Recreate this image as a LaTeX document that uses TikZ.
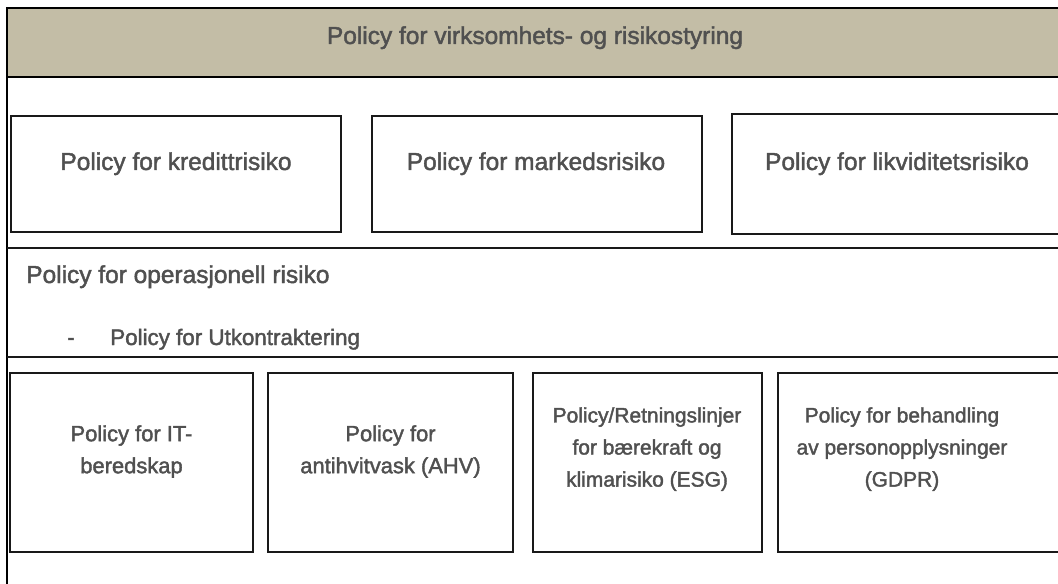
\documentclass[tikz,border=0pt]{standalone}
\usepackage{fontspec}
\setmainfont{Liberation Sans}
\newfontfamily\policyfont{Liberation Sans}[FakeBold=1.8]
\usepackage{xcolor}
\definecolor{bandfill}{HTML}{C3BDA6}
\definecolor{policygrey}{HTML}{505050}
\tikzset{
  frameline/.style={line width=2pt, black},
  boxline/.style={line width=1.6pt, black!90},
  bigtxt/.style={font=\policyfont\fontsize{17.4}{21}\selectfont, text=policygrey, inner sep=0pt},
  midtxt/.style={font=\policyfont\fontsize{15.9}{21}\selectfont, text=policygrey, inner sep=0pt},
  smalltxt/.style={font=\policyfont\fontsize{#1}{22.8}\selectfont, text=policygrey, inner sep=0pt, align=center},
  smalltxt/.default=15.3
}

\begin{document}
\begin{tikzpicture}[x=0.025cm, y=-0.025cm]
\clip (0,0) rectangle (1058,584);
\fill[white] (0,0) rectangle (1058,584);

% top band and outer frame
\draw[frameline, fill=bandfill] (7,8) rectangle (1070,77);
\draw[frameline] (7,8) -- (7,590);

% section dividers
\draw[boxline] (7,248) -- (1070,248);
\draw[boxline] (7,357) -- (1070,357);

% first row of boxes
\draw[boxline] (11,116) rectangle (341,232);
\draw[boxline] (372,116) rectangle (702,232);
\draw[boxline] (732,114) rectangle (1070,234);

% second row of boxes
\foreach \xa/\xb in {10/253, 268/513, 533/762, 778/1070}
	\draw[boxline] (\xa,373) rectangle (\xb,552);

\node[bigtxt, anchor=base] (styring) at (535,44) {Policy for virksomhets- og risikostyring};
\node[bigtxt, anchor=base] (kreditt) at (176,170) {Policy for kredittrisiko};
\node[bigtxt, anchor=base] (marked) at (536,170) {Policy for markedsrisiko};
\node[bigtxt, anchor=base] (likvid) at (897,170) {Policy for likviditetsrisiko};

\node[bigtxt, anchor=base west] (oprisk) at (26,283) {Policy for operasjonell risiko};
\node[midtxt, anchor=base west] (strek) at (67,345) {-};
\node[midtxt, anchor=base west] (utkontr) at (110,345) {Policy for Utkontraktering};

\node[smalltxt=15.6, anchor=north] (itber) at (131.5,425) {Policy for IT-\\beredskap};
\node[smalltxt=15.6, anchor=north] (ahv) at (390.5,425) {Policy for\\antihvitvask (AHV)};
\node[smalltxt=14.9, anchor=north] (esg) at (647,407) {Policy/Retningslinjer\\for bærekraft og\\klimarisiko (ESG)};
\node[smalltxt=14.9, anchor=north] (gdpr) at (902,407) {Policy for behandling\\av personopplysninger\\(GDPR)};
\end{tikzpicture}
\end{document}
